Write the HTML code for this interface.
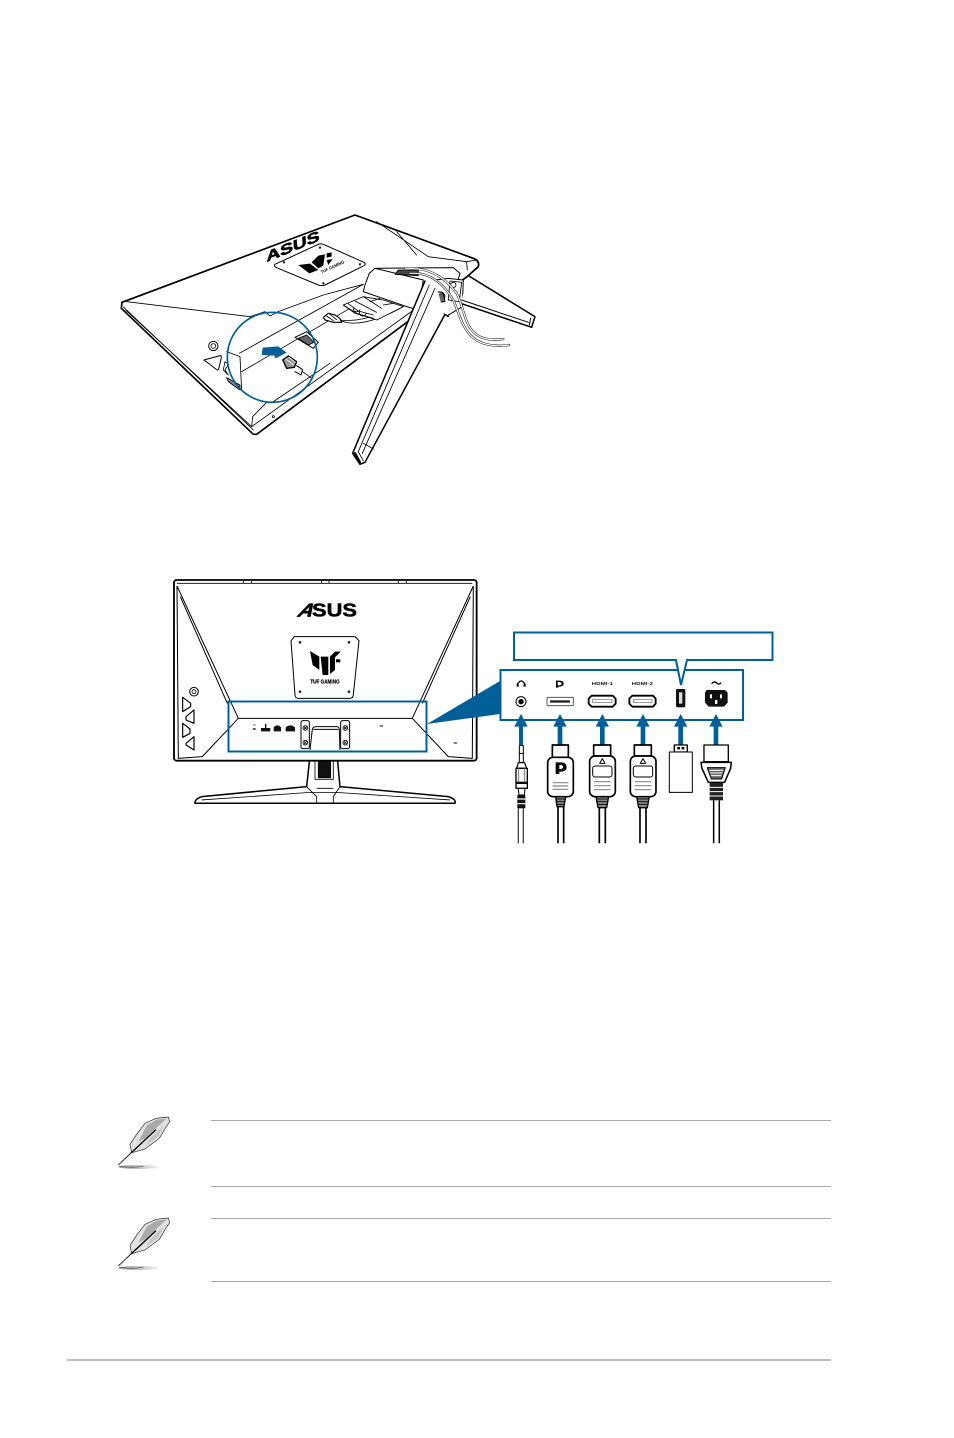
<!DOCTYPE html>
<html><head><meta charset="utf-8"><style>
html,body{margin:0;padding:0;background:#fff}
svg{display:block}
text{font-family:"Liberation Sans",sans-serif}
</style></head><body>
<svg width="954" height="1438" viewBox="0 0 954 1438" xmlns="http://www.w3.org/2000/svg">
<rect width="954" height="1438" fill="#fff"/>
<defs>
  <linearGradient id="sh" x1="0" x2="1" y1="0" y2="0"><stop offset="0" stop-color="#999"/><stop offset=".6" stop-color="#ccc"/><stop offset="1" stop-color="#eee"/></linearGradient>
  <g id="feather">
    <ellipse cx="115" cy="186" rx="60" ry="6" fill="url(#sh)"/>
    <path d="M58,183 Q90,190 130,184" stroke="#555" stroke-width="2" fill="none"/>
    <path d="M95,142 L90,118 L112,85 L135,55 L168,40 L205,36 L209,50 L198,66 L178,100 L135,132 L100,142 Z" fill="#e2e2e2" stroke="#222" stroke-width="2"/>
    <path d="M115,110 L140,62 L170,44 L200,40 L170,68 L135,100 Z" fill="#aaa"/>
    <path d="M150,100 L190,62 L175,95 L140,120 Z" fill="#c4c4c4"/>
    <path d="M55,180 L95,142" stroke="#000" stroke-width="2.500" fill="none"/>
    <path d="M93,144 L168,74" stroke="#000" stroke-width="4" fill="none"/>
  </g>
  <g id="xb">
    <circle r="7" fill="#fff" stroke="#000" stroke-width="2.500"/>
    <path d="M-4,-4 L4,4 M-4,4 L4,-4" stroke="#000" stroke-width="2.500"/>
  </g>
  <g id="hdmiplug">
    <rect x="311" y="360" width="51" height="33" fill="#fff" stroke="#000" stroke-width="5"/>
    <rect x="299" y="393" width="77" height="122" rx="16" fill="#fff" stroke="#000" stroke-width="5"/>
    <path d="M337,401 L345,415 H329 Z" fill="none" stroke="#000" stroke-width="3"/>
    <rect x="308" y="423" width="58" height="33" rx="7" fill="none" stroke="#000" stroke-width="3"/>
    <path d="M312,470 H362 M312,482 H362 M312,494 H362" stroke="#888" stroke-width="3.500"/>
    <path d="M318,515 H356 L350,548 H324 Z" fill="#888" stroke="#000" stroke-width="4"/>
    <path d="M319,522 H355 M321,530 H353 M322,538 H352" stroke="#111" stroke-width="3"/>
    <path d="M328,548 V655 M346,548 V655" stroke="#000" stroke-width="5"/>
  </g>
</defs>

<!-- TOP DIAGRAM -->
<g transform="translate(110,205) scale(.3333)" fill="none" stroke="#000" stroke-width="2.500" stroke-linejoin="round" stroke-linecap="round">
  <path d="M36,292 L735,30 L1090,160 Q1110,168 1105,185 L1075,212 L920,330 L440,688 L430,688 L34,310 Z" fill="#fff" stroke-width="5"/>
  <path d="M50,290 L420,335 M48,316 L425,665 L915,312 M40,306 L430,675 M425,665 L428,635 L470,592 M490,590 L660,475 M800,50 L955,155 L1070,170 L1072,195 M860,80 L920,150 M1070,170 L1100,165"/>
  <path d="M420,335 L465,320 L480,333 L505,320 L640,270 L760,238 M388,445 L760,238 M395,500 L720,310 M350,440 L390,455 L395,555"/>
  <!-- panel -->
  <path d="M495,178 L625,118 Q632,115 640,118 L762,172 Q770,178 762,182 L645,240 Q635,244 625,240 L500,188 Q490,183 495,178 Z" stroke-width="3"/>
  <text transform="translate(470,171) rotate(-22) skewX(-18)" font-size="42" font-weight="700" fill="#000" stroke="#000" stroke-width="1.500" textLength="172" lengthAdjust="spacingAndGlyphs">ASUS</text>
  <path d="M565,180 L600,176 L625,195 L598,205 Z M605,172 L625,152 L645,148 L640,182 L625,190 Z M650,145 L665,142 L665,155 L650,158 Z M650,165 L668,162 L655,180 Z" fill="#000" stroke="none"/>
  <text transform="translate(635,206) rotate(-25)" font-size="13" font-weight="700" fill="#000" stroke="none" textLength="76" lengthAdjust="spacingAndGlyphs">TUF GAMING</text>
  <g fill="#222" stroke="none"><circle cx="522" cy="172" r="3.500"/><circle cx="630" cy="128" r="3.500"/><circle cx="750" cy="178" r="3.500"/><circle cx="640" cy="235" r="3.500"/></g>
  <!-- buttons -->
  <circle cx="310" cy="423" r="14" stroke-width="3"/><circle cx="310" cy="423" r="7"/>
  <path d="M282,465 L330,452 Q335,452 334,458 L326,492 Q324,497 320,494 Z" stroke-width="3"/>
  <path d="M345,470 L355,478 L345,495 L355,510 L340,495 Z"/>
  <path d="M350,518 L390,540 L390,555 L355,530 Z" fill="#888"/>
  <!-- bay -->
  <path d="M555,397 L590,380 L625,412 L610,430 Z" fill="#fff" stroke-width="3"/>
  <path d="M565,400 L590,390 L612,412 L595,420 Z" fill="#666"/>
  <path d="M640,337 L655,325 L675,330 L690,340 L695,352 L670,352 L645,345 Z" fill="#fff" stroke-width="3.500"/>
  <path d="M650,333 L670,347 M660,328 L680,344"/>
  <path d="M695,348 C730,362 790,355 880,305 M690,345 C730,350 780,345 860,300"/>
  <path d="M700,300 L760,275 L820,285 L880,305 L800,345 L740,325 Z" fill="#fff"/>
  <path d="M700,300 L735,325 L790,340 M715,296 L745,318 L790,330 M735,288 L800,322 M760,275 L815,310 M780,290 L810,280 M820,300 L850,295 M730,310 a10,8 0 1 0 20,4 M750,320 a10,8 0 1 0 18,4"/>
  <!-- head -->
  <path d="M765,240 L778,205 L795,190 L1030,188 L1050,205 L1015,335 L1005,330 L925,315 L940,225 L795,190 M765,240 L760,260 L890,305 L925,315" fill="#fff" stroke-width="3"/>
  <path d="M855,208 L925,212 L925,195 L865,195 Z" fill="#444"/>
  <!-- bracket -->
  <path d="M1015,220 L1060,225 L1057,305 L1012,332 L1000,325 L960,300 L975,225 Z" fill="#fff" stroke-width="3"/>
  <path d="M1020,228 L1055,232 L1048,290 L1015,285 Z"/>
  <circle cx="990" cy="275" r="14" stroke-width="4"/><path d="M978,270 L1000,265 L1005,290 L985,292 Z" fill="#666"/>
  <ellipse cx="1077" cy="247" rx="4" ry="7"/><ellipse cx="972" cy="310" rx="4" ry="7"/><circle cx="1030" cy="240" r="8"/>
  <!-- right leg -->
  <path d="M1075,212 L1275,335 L1265,367 L1052,295" fill="#fff" stroke="none"/>
  <path d="M1075,212 L1275,335 L1265,367 L1052,295" stroke-width="4.500"/>
  <path d="M1055,285 L1255,352" stroke-width="3"/>
  <path d="M1262,340 L1258,360" stroke-width="3"/>
  <!-- left arm -->
  <path d="M945,228 L975,225 L1003,332 L765,772 L750,778 L728,745 Z" fill="#fff" stroke="none"/>
  <path d="M945,228 L728,745 L750,778 L765,772 L1003,332" stroke-width="4.500"/>
  <path d="M958,240 L745,740 L760,768 M975,250 L757,745 M760,715 L790,732" stroke-width="2.500"/>
  <path d="M735,745 L750,772" stroke-width="7"/>
  <!-- cables -->
  <g>
    <path d="M885,192 C950,185 1000,210 1040,265 C1065,310 1060,370 1110,395 C1140,408 1160,404 1180,402" stroke="#222" stroke-width="7"/>
    <path d="M885,192 C950,185 1000,210 1040,265 C1065,310 1060,370 1110,395 C1140,408 1160,404 1180,402" stroke="#fff" stroke-width="3.500"/>
    <path d="M900,205 C960,200 1000,235 1030,285 C1050,330 1060,395 1120,415 C1150,424 1175,424 1197,420" stroke="#222" stroke-width="7"/>
    <path d="M900,205 C960,200 1000,235 1030,285 C1050,330 1060,395 1120,415 C1150,424 1175,424 1197,420" stroke="#fff" stroke-width="3.500"/>
  </g>
  <!-- plug in circle -->
  <path d="M518,465 L535,453 L560,470 L553,487 L530,490 Z" fill="#999" stroke-width="4"/>
  <path d="M528,462 L550,480 M538,457 L556,472" stroke="#fff"/>
  <path d="M560,482 L578,494 L573,510 L555,500" fill="#fff" stroke-width="3"/>
  <path d="M578,500 L605,520"/>
  <circle cx="487" cy="457" r="135" stroke="#005f96" stroke-width="5"/>
  <path d="M458,428 L505,424 L530,443 L497,460 L493,452 L455,450 Z" fill="#005f96" stroke="none"/>
  <circle cx="490" cy="635" r="3"/>
</g>

<!-- MIDDLE: monitor -->
<g transform="translate(165,570) scale(.3333)" fill="none" stroke="#000" stroke-width="2.500" stroke-linejoin="round">
  <path d="M437,540 L425,650 L110,680 Q88,688 90,700 L870,700 Q875,688 850,680 L525,650 L515,540 Z" fill="#fff" stroke-width="4.500"/>
  <path d="M110,690 L425,668 L525,668 L855,690 M425,650 L455,680 L455,700 M525,650 L505,680 L505,700 M455,655 L505,655"/>
  <rect x="450" y="550" width="55" height="78"/>
  <rect x="460" y="565" width="37" height="58" fill="#111"/>
  <!-- body -->
  <rect x="27" y="30" width="908" height="542" rx="8" fill="#fff" stroke-width="5.500"/>
  <path d="M36,40 L922,40 M235,33 L235,40 M260,33 L260,40 M470,33 L470,40 M492,33 L492,40 M700,33 L700,40 M724,33 L724,40"/>
  <path d="M36,48 L220,445 L112,560 L40,565 L36,48 M46,80 L187,400 M925,48 L742,445 L850,560 L922,565 L925,48 M916,80 L772,400 M220,445 L742,445" stroke-width="3"/>
  <!-- ASUS -->
  <text transform="translate(394,139) skewX(-30)" font-size="56" font-weight="700" fill="#000" stroke="#000" stroke-width="2" textLength="44" lengthAdjust="spacingAndGlyphs">A</text>
  <text x="441" y="139" font-size="56" font-weight="700" fill="#000" stroke="#000" stroke-width="1.500" textLength="135" lengthAdjust="spacingAndGlyphs">SUS</text>
  <!-- VESA -->
  <path d="M388,200 L570,200 L582,212 L565,375 Q564,385 555,385 L400,385 Q391,385 390,375 L378,212 Z" stroke-width="3"/>
  <g fill="#222" stroke="none"><circle cx="405" cy="217" r="4"/><circle cx="552" cy="217" r="4"/><circle cx="405" cy="365" r="4"/><circle cx="552" cy="365" r="4"/></g>
  <path d="M435,243 L463,260 L463,300 L443,285 Z M467,260 L490,260 L490,315 L473,315 Z M495,260 L510,245 L527,245 L510,262 L510,300 L495,312 Z" fill="#000" stroke="none"/>
  <rect x="513" y="268" width="13" height="9" fill="#000" stroke="none"/>
  <text x="436" y="340" font-size="16" font-weight="700" fill="#000" stroke="#000" stroke-width=".5" textLength="88" lengthAdjust="spacingAndGlyphs">TUF GAMING</text>
  <!-- buttons -->
  <circle cx="87" cy="365" r="13" stroke-width="3"/><circle cx="87" cy="365" r="6"/>
  <path d="M53,382 L77,400 V410 L53,425 Z M87,420 L63,440 V450 L87,460 Z M53,460 L75,477 V490 L53,502 Z M87,500 L63,520 V525 L87,540 Z" stroke-width="3.500"/>
  <!-- ports -->
  <path d="M264,465 L272,465" stroke="#888" stroke-width="4"/><path d="M264,477 L272,477" stroke="#555" stroke-width="6"/>
  <path d="M288,484 L288,474 L316,474 L316,484 Z M326,484 L326,472 Q337,460 348,472 L348,484 Z M362,484 L362,472 Q377,460 390,472 L390,484 Z" fill="#111" stroke="none"/>
  <path d="M302,462 L302,476" stroke-width="4"/>
  <path d="M644,468 L654,468 M866,519 L876,519" stroke-width="3"/>
  <!-- brackets -->
  <rect x="408" y="452" width="25" height="84" rx="6" fill="#fff" stroke-width="3"/><rect x="527" y="452" width="27" height="84" rx="6" fill="#fff" stroke-width="3"/>
  <use href="#xb" x="421" y="474"/><use href="#xb" x="421" y="518"/><use href="#xb" x="541" y="474"/><use href="#xb" x="541" y="518"/>
  <path d="M435,540 L442,478 Q444,470 455,470 L515,470 Q522,470 523,478 L525,540 M445,478 L520,478" stroke-width="3"/>
</g>

<!-- wedge and callouts -->
<path d="M427,724 L500,681 L500,714 Z" fill="#005f96"/>
<rect x="228.500" y="701.500" width="198" height="50" fill="none" stroke="#005f96" stroke-width="2"/>
<rect x="500.500" y="670" width="242.500" height="50" fill="#fff" stroke="#005f96" stroke-width="2"/>
<path d="M676,660 H514 V632.500 H772.500 V660 H687 L681,685 Z" fill="#fff" stroke="#005f96" stroke-width="2"/>

<g transform="translate(490,625) scale(.3333)" fill="none" stroke="#000" stroke-width="3" stroke-linejoin="round">
  <!-- labels/ports -->
  <path d="M83,180 V176 Q93,160 104,176 V180" stroke-width="4"/><rect x="80" y="177" width="6" height="8" fill="#000" stroke="none"/><rect x="101" y="177" width="6" height="8" fill="#000" stroke="none"/>
  <circle cx="93" cy="230" r="15"/><circle cx="93" cy="230" r="8" fill="#000" stroke="none"/>
  <path d="M198,167 H210 Q221,168 221,176 Q221,184 210,185 H205 V188 H198 Z M203,171 H208 Q215,172 215,176 Q215,180 208,181 H203 Z" fill="#000" fill-rule="evenodd" stroke="none"/>
  <text x="305" y="180" font-size="15" font-weight="700" fill="#222" textLength="64" lengthAdjust="spacingAndGlyphs" stroke="none">HDMI-1</text>
  <text x="425" y="180" font-size="15" font-weight="700" fill="#222" textLength="64" lengthAdjust="spacingAndGlyphs" stroke="none">HDMI-2</text>
  <path d="M665,176 Q672,167 680,174 T693,173" stroke-width="4"/>
  <rect x="171" y="217" width="79" height="25" rx="3" stroke="#555"/><rect x="180" y="226" width="60" height="7" fill="#222" stroke="none"/>
  <path d="M305,212 H368 L377,221 V236 L368,245 H305 L296,236 V221 Z" stroke-width="5.500"/>
  <path d="M308,224 H366 V233 H308 Z" stroke="#666" stroke-width="2"/>
  <path d="M427,212 H489 L497,221 V236 L489,245 H427 L418,236 V221 Z" stroke-width="5.500"/>
  <path d="M430,224 H486 V233 H430 Z" stroke="#666" stroke-width="2"/>
  <rect x="558" y="192" width="28" height="55" rx="5" fill="#111" stroke="none"/><rect x="567" y="202" width="10" height="34" fill="#ddd" stroke="none"/>
  <path d="M650,195 H705 L713,203 V233 L702,245 H656 L645,233 V203 Z" fill="#111" stroke="none"/>
  <g fill="#fff" stroke="none"><rect x="660" y="208" width="6" height="12"/><rect x="690" y="208" width="6" height="12"/><rect x="675" y="225" width="7" height="12"/></g>

  <!-- arrows -->
  <g fill="#005f96" stroke="none">
    <path d="M93,267 L113,305 L99,305 V360 H87 V305 H73 Z"/>
    <path d="M210,267 L230,305 L217,305 V360 H203 V305 H190 Z"/>
    <path d="M337,267 L357,305 L344,305 V360 H330 V305 H317 Z"/>
    <path d="M459,267 L479,305 L466,305 V360 H452 V305 H439 Z"/>
    <path d="M572,267 L592,305 L579,305 V360 H565 V305 H552 Z"/>
    <path d="M678,267 L698,305 L685,305 V360 H671 V305 H658 Z"/>
  </g>

  <!-- audio -->
  <path d="M88,362 H100 V412 H88 Z M88,385 H100" fill="#fff"/>
  <path d="M85,413 H104 L110,430 H80 Z" fill="#fff" stroke-width="3.500"/>
  <path d="M78,430 H112 V472 H78 Z" fill="#fff" stroke-width="4"/>
  <path d="M86,430 V472 M104,430 V472" stroke="#777"/>
  <path d="M78,475 H112 V490 H78 Z" fill="#fff" stroke-width="4"/>
  <path d="M85,490 H105 L103,510 H87 Z" fill="#fff"/>
  <rect x="82" y="510" width="24" height="40" fill="#111" stroke="none"/>
  <path d="M82,522 H106 M82,536 H106" stroke="#fff" stroke-width="3.500"/>
  <path d="M85,550 V655 M100,550 V655" stroke="#444" stroke-width="4"/>

  <!-- DP -->
  <rect x="187" y="360" width="48" height="37" fill="#fff" stroke-width="5"/>
  <rect x="173" y="397" width="77" height="118" rx="16" fill="#fff" stroke-width="5"/>
  <path d="M197,412 H216 Q230,414 230,426 Q230,438 216,440 H208 V447 H197 Z M208,420 H213 Q219,421 219,426 Q219,431 213,432 H208 Z" fill="#000" fill-rule="evenodd" stroke="none"/>
  <path d="M188,473 H235 M188,483 H235 M188,493 H235" stroke="#888" stroke-width="3.500"/>
  <path d="M197,515 H227 L222,545 H201 Z" fill="#888" stroke-width="4"/>
  <path d="M198,522 H226 M199,530 H224 M200,538 H222" stroke="#111" stroke-width="3"/>
  <path d="M204,545 V655 M221,545 V655" stroke-width="5"/>

  <use href="#hdmiplug"/>
  <use href="#hdmiplug" x="122"/>

  <!-- USB -->
  <rect x="553" y="360" width="39" height="21" fill="#fff" stroke-width="4"/>
  <rect x="562" y="366" width="8" height="7" fill="#000" stroke="none"/><rect x="575" y="366" width="8" height="7" fill="#000" stroke="none"/>
  <rect x="538" y="381" width="69" height="121" fill="#fff"/>

  <!-- power -->
  <rect x="642" y="360" width="73" height="50" fill="#fff" stroke-width="4"/>
  <path d="M633,412 H724 L722,430 L704,472 H655 L636,430 Z" fill="#fff" stroke-width="4.500"/>
  <path d="M652,428 H706 L695,462 H664 Z" fill="#666"/>
  <path d="M658,436 H700 M660,444 H697 M663,452 H694" stroke="#fff" stroke-width="3"/>
  <rect x="659" y="474" width="40" height="52" fill="#222" stroke="none"/>
  <path d="M659,487 H699 M659,500 H699 M659,513 H699" stroke="#fff" stroke-width="3"/>
  <path d="M671,526 V655 M688,526 V655" stroke-width="4.500"/>
</g>

<!-- NOTES -->
<g stroke="#aaa" stroke-width="1">
  <path d="M211,1120.500 H831 M211,1186.500 H831 M211,1218.500 H831 M211,1281.500 H831"/>
  <path d="M67,1360 H831" stroke-width="1.500"/>
</g>
<g transform="translate(100,1105) scale(.3333)"><use href="#feather"/></g>
<g transform="translate(100,1206) scale(.3333)"><use href="#feather"/></g>
</svg>
</body></html>
